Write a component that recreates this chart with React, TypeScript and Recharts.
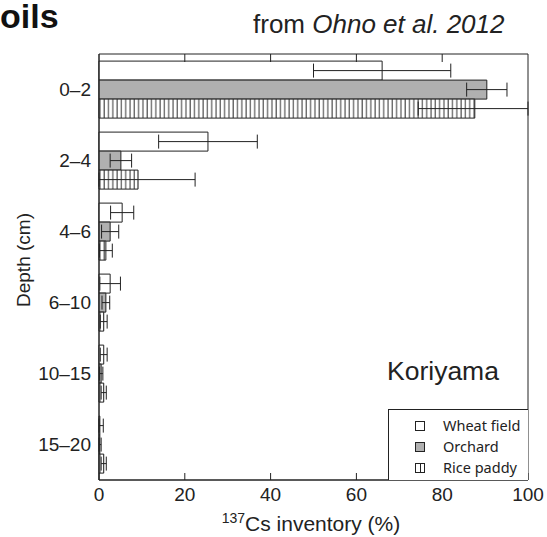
import { BarChart, Bar, XAxis, YAxis, ErrorBar, ReferenceArea, ReferenceLine } from 'recharts';

const depths = ['0–2', '2–4', '4–6', '6–10', '10–15', '15–20'];
const wheat = [66, 25.4, 5.4, 2.6, 1.1, 0.2];
const wheatErr = [16, 11.5, 2.7, 2.4, 0.8, 0.8];
const orchard = [90.4, 5.1, 2.6, 1.6, 0.5, 0.2];
const orchardErr = [4.7, 2.5, 2.0, 0.9, 0.4, 0.3];
const rice = [87.6, 9.1, 1.6, 1.1, 1.1, 1.1];
const riceErr = [13.2, 13.3, 1.5, 0.8, 0.6, 0.6];
const xTicks = [0, 20, 40, 60, 80, 100];
const topTicks = [20, 40, 60, 80];

// error whiskers stay inside the 0–100 frame, as in the original figure
const clipErr = (v: number, e: number) => [Math.min(e, v), Math.min(e, 100 - v)];

const data = depths.map((depth, i) => ({
  depth,
  wheat: wheat[i],
  wheatErr: clipErr(wheat[i], wheatErr[i]),
  orchard: orchard[i],
  orchardErr: clipErr(orchard[i], orchardErr[i]),
  rice: rice[i],
  riceErr: clipErr(rice[i], riceErr[i]),
}));

const INK = '#222';
const FONT = '"Liberation Sans", Arial, sans-serif';

// short inward tick hanging from the top frame
const TopTick = (props: any) => {
  const x = props.x1 ?? props.x;
  const top = Math.min(props.y1 ?? 0, props.y2 ?? 0);
  return <line x1={x} x2={x} y1={top} y2={top + 8} stroke={INK} strokeWidth={1} />;
};

function LegendBox() {
  const rows = [
    { label: 'Wheat field', kind: 'wheat' },
    { label: 'Orchard', kind: 'orchard' },
    { label: 'Rice paddy', kind: 'rice' },
  ];
  return (
    <div
      style={{
        position: 'absolute',
        left: 388,
        top: 409,
        width: 140,
        height: 71,
        borderLeft: `1px solid ${INK}`,
        borderTop: `1px solid ${INK}`,
        background: '#fff',
        boxSizing: 'border-box',
        paddingTop: 5,
      }}
    >
      {rows.map((r) => (
        <div key={r.kind} style={{ display: 'flex', alignItems: 'center', height: 21 }}>
          <div
            style={{
              marginLeft: 26,
              width: 10,
              height: 10,
              border: `1px solid ${INK}`,
              background: r.kind === 'orchard' ? '#b0b0b0' : '#fff',
              boxSizing: 'border-box',
              position: 'relative',
            }}
          >
            {r.kind === 'rice' && (
              <div style={{ position: 'absolute', left: 4, top: 0, width: 1, height: 8, background: INK }} />
            )}
          </div>
          <span
            style={{
              marginLeft: 18,
              fontFamily: '"Noto Sans", sans-serif',
              fontSize: 14.5,
              color: INK,
              lineHeight: 1,
            }}
          >
            {r.label}
          </span>
        </div>
      ))}
    </div>
  );
}

export default function App() {
  return (
    <div style={{ position: 'absolute', left: 0, top: 0, width: 547, height: 537, background: '#fff', fontFamily: FONT }}>
      <BarChart
        width={547}
        height={537}
        data={data}
        layout="vertical"
        margin={{ top: 54, right: 19, left: 0, bottom: 0 }}
        barCategoryGap="10%"
        barGap={0}
      >
        <defs>
          <pattern id="riceHatch" width="4.3" height="10" patternUnits="userSpaceOnUse">
            <rect width="4.3" height="10" fill="#fff" />
            <line x1="1" y1="0" x2="1" y2="10" stroke="#333" strokeWidth={1} />
          </pattern>
        </defs>
        <XAxis
          type="number"
          domain={[0, 100]}
          ticks={xTicks}
          height={57}
          axisLine={{ stroke: INK }}
          tickLine={{ stroke: INK }}
          tickSize={-7}
          tickMargin={15}
          tick={{ fill: INK, fontSize: 19, fontFamily: FONT }}
        />
        <YAxis
          type="category"
          dataKey="depth"
          width={99}
          axisLine={{ stroke: INK }}
          tickLine={false}
          tickMargin={2}
          tick={{ fill: INK, fontSize: 19, fontFamily: FONT }}
        />
        <ReferenceArea x1={0} x2={100} fill="none" stroke={INK} strokeWidth={1} />
        {topTicks.map((t) => (
          <ReferenceLine key={t} x={t} stroke={INK} shape={TopTick} />
        ))}
        <Bar dataKey="wheat" name="Wheat field" fill="#fff" stroke={INK} strokeWidth={1} isAnimationActive={false}>
          <ErrorBar dataKey="wheatErr" direction="x" width={7} stroke={INK} strokeWidth={1} />
        </Bar>
        <Bar dataKey="orchard" name="Orchard" fill="#b0b0b0" stroke={INK} strokeWidth={1} isAnimationActive={false}>
          <ErrorBar dataKey="orchardErr" direction="x" width={7} stroke={INK} strokeWidth={1} />
        </Bar>
        <Bar dataKey="rice" name="Rice paddy" fill="url(#riceHatch)" stroke={INK} strokeWidth={1} isAnimationActive={false}>
          <ErrorBar dataKey="riceErr" direction="x" width={7} stroke={INK} strokeWidth={1} />
        </Bar>
      </BarChart>

      <div style={{ position: 'absolute', left: 0, top: -2, fontSize: 34, fontWeight: 'bold', color: '#111', lineHeight: 1.1 }}>
        oils
      </div>
      <div style={{ position: 'absolute', left: 253, top: 10, fontSize: 26, color: INK, lineHeight: 1.15 }}>
        from <i>Ohno et al. 2012</i>
      </div>
      <div
        style={{
          position: 'absolute',
          left: 24,
          top: 260,
          transform: 'translate(-50%, -50%) rotate(-90deg)',
          fontSize: 19,
          color: INK,
          whiteSpace: 'nowrap',
        }}
      >
        Depth (cm)
      </div>
      <div
        style={{
          position: 'absolute',
          left: 311,
          top: 510,
          transform: 'translateX(-50%)',
          fontSize: 21,
          color: INK,
          whiteSpace: 'nowrap',
          lineHeight: 1.2,
        }}
      >
        <sup style={{ fontSize: 14 }}>137</sup>Cs inventory (%)
      </div>
      <div style={{ position: 'absolute', left: 387, top: 356, fontSize: 26.5, color: INK, lineHeight: 1.15 }}>
        Koriyama
      </div>
      <LegendBox />
    </div>
  );
}
